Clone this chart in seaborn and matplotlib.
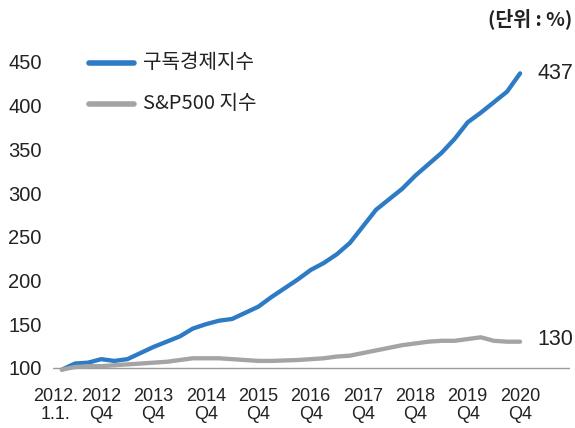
import matplotlib
matplotlib.use("Agg")
import matplotlib.pyplot as plt
import matplotlib.transforms as mtrans
import seaborn as sns
import pandas as pd

# 분기별 지수 (2012.1.1 = 100)
quarters = list(range(36))
subs_index = [98, 105, 106, 110, 108, 110, 117, 124, 130, 136, 145, 150,
              154, 156, 163, 170, 181, 191, 201, 212, 220, 230, 243, 262,
              281, 293, 305, 320, 333, 346, 362, 381, 392, 404, 416, 437]
sp500_index = [98, 101, 102, 102, 103, 104, 105, 106, 107, 109, 111, 111,
               111, 110, 109, 108, 108, 108.5, 109, 110, 111, 113, 114, 117,
               120, 123, 126, 128, 130, 131, 131, 133, 135, 131, 130, 130]
series_names = ["구독경제지수", "S&P500 지수"]
tick_pos = [0, 3, 7, 11, 15, 19, 23, 27, 31, 35]
tick_labels = ["2012.\n1.1.", "2012\nQ4", "2013\nQ4", "2014\nQ4", "2015\nQ4",
               "2016\nQ4", "2017\nQ4", "2018\nQ4", "2019\nQ4", "2020\nQ4"]
y_ticks = [100, 150, 200, 250, 300, 350, 400, 450]

df = pd.concat([
    pd.DataFrame({"q": quarters, "val": subs_index, "series": series_names[0]}),
    pd.DataFrame({"q": quarters, "val": sp500_index, "series": series_names[1]}),
])

sns.set_style("white")
plt.rcParams["font.family"] = ["Liberation Sans", "Noto Sans CJK KR", "DejaVu Sans"]
kr_font = ["Noto Sans CJK KR", "DejaVu Sans"]

fig = plt.figure(figsize=(5.75, 4.28), dpi=100)
ax = fig.add_axes([0.092, 0.12, 0.899, 0.776])

colors = {series_names[0]: "#2c7bc4", series_names[1]: "#a4a4a6"}
sns.lineplot(data=df, x="q", y="val", hue="series", palette=colors,
             linewidth=3.1, ax=ax, legend=False)
ax.axhline(100, color="#9a9a9a", linewidth=1.0, zorder=0)

ax.set_xlim(-0.69, 38.8)
ax.set_ylim(90, 470)
ax.set_xticks(tick_pos)
ax.set_xticklabels(tick_labels, fontsize=13, linespacing=1.1)
ax.set_yticks(y_ticks)
ax.set_yticklabels([str(v) for v in y_ticks], fontsize=14.5)
ax.tick_params(axis="both", length=0, colors="#222222")
ax.tick_params(axis="y", pad=8)
ax.tick_params(axis="x", pad=8)
ax.set_xlabel("")
ax.set_ylabel("")
for s in ax.spines.values():
    s.set_visible(False)

# 첫 번째 눈금 라벨을 약간 왼쪽으로
first = ax.get_xticklabels()[0]
first.set_transform(first.get_transform() + mtrans.ScaledTranslation(-6 / 100, 0, fig.dpi_scale_trans))

# 범례
for i, name in enumerate(series_names):
    y = 449 - i * 47
    ax.plot([2.1, 5.5], [y, y], color=colors[name], linewidth=4,
            solid_capstyle="round", clip_on=False)
    ax.text(6.2, y, name, fontsize=14.5, va="center", ha="left",
            family=kr_font, fontweight="light", color="#222222")

ax.text(36.3, subs_index[-1], "437", fontsize=15.5, va="center", ha="left", color="#222222")
ax.text(36.3, sp500_index[-1] + 2, "130", fontsize=15.5, va="center", ha="left", color="#222222")
fig.text(0.995, 0.957, "(단위 : %)", fontsize=14, ha="right", va="center",
         family=kr_font, color="#222222", fontweight="bold")

fig.savefig("out.png", dpi=100)
